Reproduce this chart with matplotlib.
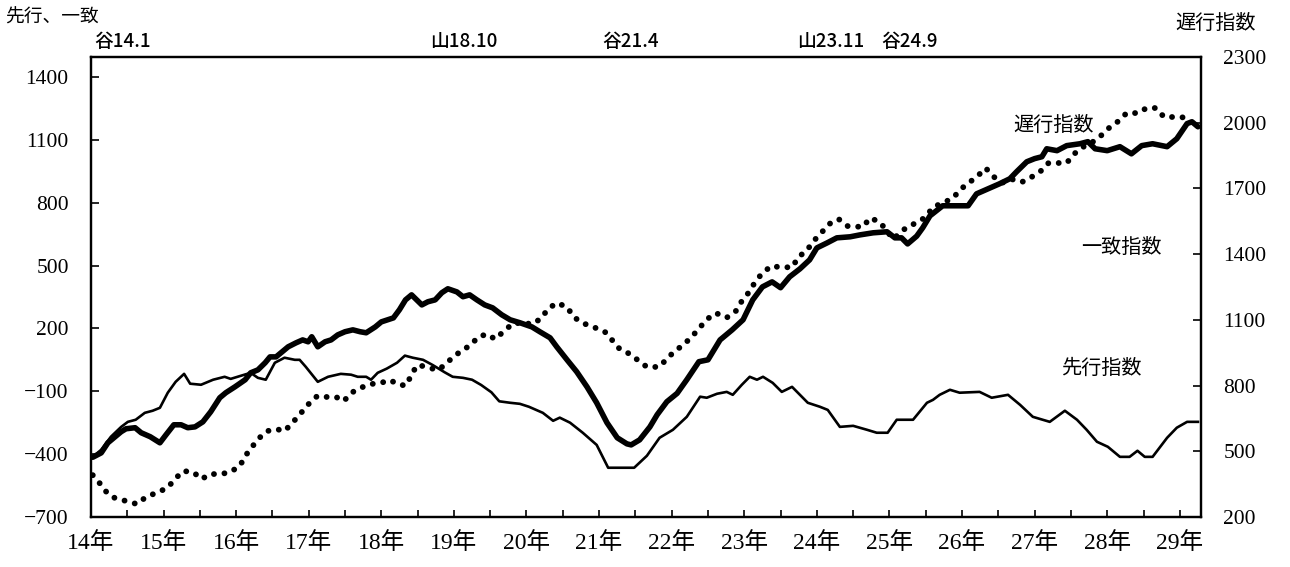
import matplotlib
matplotlib.use('Agg')
import matplotlib.pyplot as plt
import matplotlib.transforms as mtransforms
from matplotlib.ticker import MultipleLocator

# months counted from Jan of H14 (0 = 14年1月)
coin_m = [0.3, 1.7, 2.8, 4, 5, 5.8, 7.3, 8.3, 9.8, 11.4, 12.4, 13.7, 14.9, 16, 17.2, 18.5, 19.8,
          21.3, 22.3, 23.8, 25.5, 26.4, 27.6, 28.8, 29.6, 30.6, 31.4, 32.6, 33.9, 35, 35.9, 36.5,
          37.5, 38.7, 39.7, 40.8, 42, 43.3, 44.5, 45.5, 47, 48, 50, 51, 52, 53, 54.7, 55.7, 56.9,
          58, 59, 60.5, 61.5, 62.6, 63.8, 65.1, 66.4, 67.9, 69.3, 70.9, 72.9, 74.2, 75.9, 77,
          78.7, 80.3, 82, 83.6, 85.3, 87, 88.6, 89.3, 90.7, 92.4, 93.6, 95.2, 96.9, 98.5, 100.5,
          102, 104, 106, 107.8, 109.4, 111, 112.6, 114, 115.5, 117.2, 118.8, 120, 121.7, 123.3,
          125.5, 127.1, 129.3, 131.6, 132.9, 134, 135, 136.5, 137.5, 138.7, 140.8, 142.5, 145,
          146.4, 148.3, 150.2, 151.9, 153, 154.7, 156, 157.2, 158, 159.7, 161.3, 163.5, 164.8,
          166, 168, 170.1, 172, 173.7, 175.5, 177.9, 179.5, 181.2, 182, 183]
coin_v = [-415, -394, -346, -317, -293, -279, -274, -298, -317, -346, -308, -260, -260, -274, -270,
          -246, -198, -131, -107, -79, -45, -12, 2, 36, 64, 64, 83, 112, 131, 145, 136, 160, 112,
          136, 145, 169, 184, 193, 184, 179, 207, 231, 250, 289, 336, 360, 312, 327, 336, 370, 389,
          374, 351, 360, 336, 312, 298, 265, 241, 227, 207, 184, 155, 112, 50, -7, -79, -155, -250,
          -322, -351, -356, -332, -270, -212, -150, -110, -45, 41, 50, 145, 193, 241, 336, 398, 422,
          394, 446, 484, 527, 584, 608, 632, 637, 646, 656, 661, 632, 632, 603, 640, 680, 737, 785,
          785, 785, 842, 866, 890, 914, 947, 995, 1010, 1019, 1057, 1048, 1072, 1081, 1091, 1057,
          1048, 1067, 1033, 1072, 1081, 1067, 1105, 1177, 1186, 1162]

lead_m = [0.3, 1.7, 3.3, 5, 6.1, 7.4, 8.9, 10.2, 11.4, 12.7, 14, 15.4, 16.4, 18.2, 20.2, 22.1, 23.1,
          24.8, 26.4, 27.6, 28.9, 30.4, 32, 33.7, 34.5, 35.5, 37.5, 39.2, 41.3, 43, 44.1, 45.5,
          46.3, 47.4, 48.9, 50.6, 51.9, 53.2, 54.9, 56.5, 58.5, 59.8, 61.5, 63, 64.5, 66.2, 67.5,
          69.3, 70.9, 72.4, 74.7, 76.4, 77.5, 79.2, 81.3, 83.6, 85.5, 87.9, 89.8, 91.9, 94, 96.2,
          98.5, 100.7, 101.8, 103.5, 105.1, 106.1, 107.6, 108.9, 110.1, 111.1, 112.7, 114.2, 115.9,
          117.2, 118.5, 120.5, 121.8, 123.8, 126, 128.3, 129.9, 131.7, 133.2, 135.9, 138.2, 139.2,
          140.3, 142, 143.6, 146.9, 148.9, 151.6, 153.6, 155.7, 158.5, 161, 163, 164.6, 166.3,
          168.1, 170.1, 171.7, 173, 174.2, 175.5, 177.9, 179.5, 181.2, 183]
lead_v = [-413, -379, -317, -270, -246, -236, -203, -193, -179, -107, -55, -17, -64, -69, -45, -31,
          -41, -26, -12, -36, -45, 36, 60, 50, 50, 17, -55, -31, -17, -21, -31, -31, -45, -12, 8,
          36, 70, 60, 50, 25, -10, -31, -36, -45, -70, -105, -148, -155, -160, -174, -203, -241,
          -226, -250, -298, -356, -465, -465, -465, -408, -322, -284, -222, -126, -131, -112, -103,
          -117, -69, -31, -45, -31, -60, -103, -79, -117, -155, -174, -189, -270, -265, -284, -298,
          -298, -236, -236, -155, -141, -117, -93, -107, -103, -131, -117, -165, -222, -246, -193,
          -236, -284, -341, -365, -413, -413, -384, -413, -413, -322, -274, -246, -246]

lag_m = [0.3, 1.7, 2.8, 4, 5.8, 7.6, 9.1, 10.7, 12.6, 13.9, 15.2, 16.9, 18.3, 19.7, 21.5, 23, 24.6,
         25.5, 26.6, 27.8, 29.1, 30.7, 32, 33.4, 34.7, 36, 37.4, 38.8, 40.5, 41.8, 43, 44.5, 46.3,
         47.8, 49.4, 51.1, 52.2, 53, 54, 55.5, 57.2, 58.3, 59.7, 61.2, 62.8, 64, 65.5, 66.8, 68.1,
         69.8, 71.4, 73, 74.5, 75.5, 77, 78.7, 79.8, 81.3, 83.1, 85, 86.3, 87.4, 89.1, 90.6, 91.9,
         93.9, 95.2, 96.4, 97.9, 99.3, 100.6, 101.8, 103.3, 105.1, 106.6, 107.6, 108.8, 109.8, 111,
         112.5, 114.2, 116, 116.9, 118.3, 119.3, 120.7, 122, 123.6, 125.1, 127.6, 128.8, 130.4,
         132.6, 134.9, 136.4, 138, 139.2, 140.8, 142.5, 143.8, 145.1, 146.6, 147.9, 149.3, 150.6,
         152.1, 153.9, 155.5, 157, 158.3, 159.8, 161.3, 162.5, 164, 165.6, 167.1, 168.3, 169.9,
         171.2, 173.1, 174.5, 176, 177.4, 178.7, 180.3, 182]
lag_v = [391, 346, 305, 286, 273, 259, 291, 309, 332, 373, 410, 405, 373, 396, 396, 405, 432, 478,
         519, 560, 592, 601, 592, 633, 674, 716, 752, 748, 748, 729, 766, 789, 807, 811, 825, 802,
         802, 853, 894, 885, 871, 889, 926, 958, 985, 1022, 1035, 1012, 1044, 1085, 1085, 1081,
         1108, 1149, 1177, 1159, 1113, 1085, 1067, 1044, 1003, 967, 944, 912, 885, 885, 921, 955,
         985, 1022, 1063, 1102, 1131, 1110, 1140, 1186, 1227, 1273, 1314, 1346, 1339, 1341, 1387,
         1414, 1455, 1496, 1537, 1560, 1528, 1524, 1565, 1547, 1469, 1524, 1542, 1569, 1615, 1633,
         1656, 1697, 1725, 1757, 1793, 1752, 1725, 1743, 1729, 1752, 1779, 1816, 1816, 1816, 1857,
         1889, 1912, 1944, 1976, 2008, 2044, 2044, 2067, 2067, 2026, 2026, 2026, 2008]

year_labels = [f'{y}年' for y in range(14, 30)]
left_ticks = [-700, -400, -100, 200, 500, 800, 1100, 1400]
right_ticks = [200, 500, 800, 1100, 1400, 1700, 2000, 2300]

turn_labels = ['谷14.1', '山18.10', '谷21.4', '山23.11', '谷24.9']
turn_text_x = [0.6, 56, 84.5, 116.8, 130.6]  # where the text starts (months)

CJK = 'Noto Sans CJK JP'
plt.rcParams['font.family'] = ['Liberation Serif', CJK]

fig = plt.figure(figsize=(12.9, 5.67), dpi=100)
ax = fig.add_axes([0.0705, 0.0882, 0.8605, 0.8113])
ax2 = ax.twinx()

ax.plot(lead_m, lead_v, color='black', lw=1.9, solid_joinstyle='round')
ax.plot(coin_m, coin_v, color='black', lw=4.0, solid_joinstyle='round', solid_capstyle='round')
ax2.plot(lag_m, lag_v, color='black', lw=4.2, linestyle=(0, (0.01, 1.8)),
         dash_capstyle='round')

ax.set_xlim(0, 183.5)
ax.set_ylim(-700, 1495)
ax2.set_ylim(200, 2300)

ax.set_xticks(range(0, 181, 12))
ax.set_xticklabels(year_labels, fontsize=17)
ax.xaxis.set_minor_locator(MultipleLocator(6))
ax.tick_params(axis='x', which='both', direction='in', length=5, width=1.2, pad=11, top=False)

ax.set_yticks(left_ticks)
ax.set_yticklabels([str(t).replace('-', '\u2212') for t in left_ticks], fontsize=15.5)
ax.tick_params(axis='y', direction='in', length=6, width=1.2, pad=16)
ax2.set_yticks(right_ticks)
ax2.set_yticklabels([str(t) for t in right_ticks], fontsize=15.5)
ax2.tick_params(axis='y', direction='in', length=6, width=1.2, pad=16)

for a in (ax, ax2):
    for s in a.spines.values():
        s.set_linewidth(1.6)

# turning point dates above the frame
trans = mtransforms.blended_transform_factory(ax.transData, ax.transAxes)
for lab, xm in zip(turn_labels, turn_text_x):
    ax.text(xm, 1.033, lab, transform=trans, ha='left', va='center', fontsize=13.5,
            family=CJK, fontweight='medium')

# series names inside the plot
ax.text(0.8676, 0.852, '遅行指数', transform=ax.transAxes, ha='center', va='center',
        fontsize=14.5, family=CJK)
ax.text(0.928, 0.585, '一致指数', transform=ax.transAxes, ha='center', va='center',
        fontsize=14.5, family=CJK)
ax.text(0.910, 0.324, '先行指数', transform=ax.transAxes, ha='center', va='center',
        fontsize=14.5, family=CJK)

# axis captions
fig.text(0.004, 0.97, '先行、一致', ha='left', va='center', fontsize=13.5, family=CJK)
fig.text(0.911, 0.958, '遅行指数', ha='left', va='center', fontsize=14.5, family=CJK)

fig.savefig('out.png', dpi=100)
